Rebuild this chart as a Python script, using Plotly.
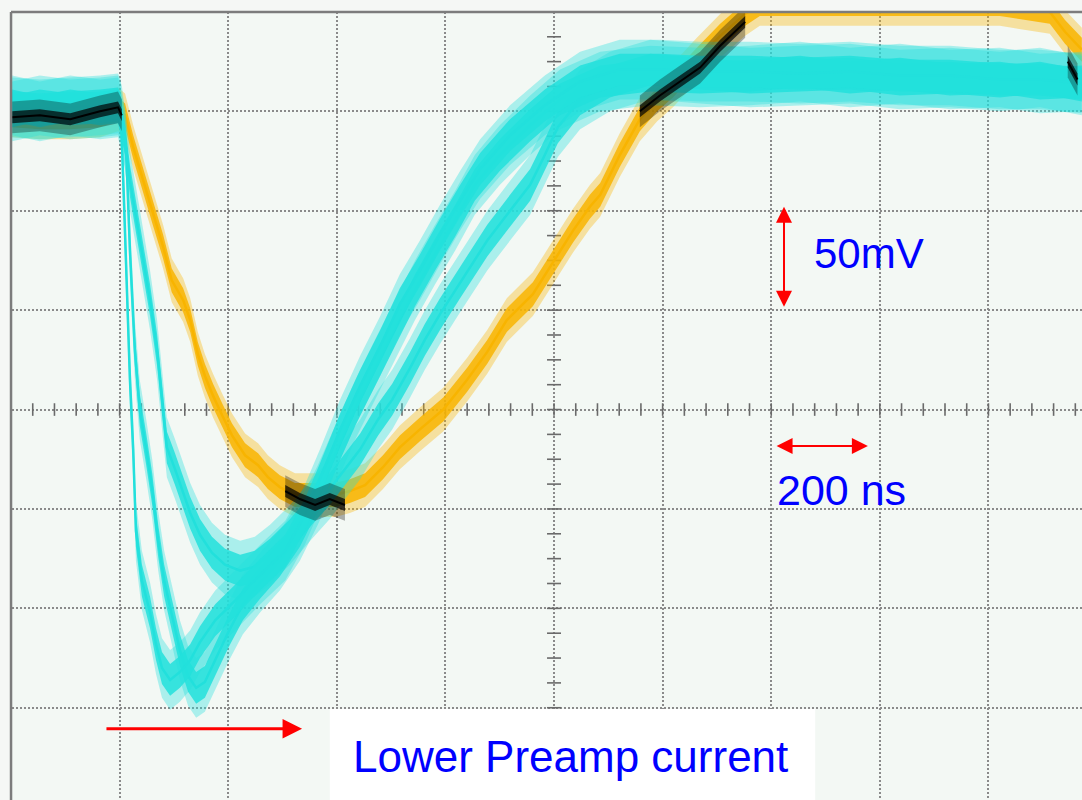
import numpy as np
import plotly.graph_objects as go

# ---- data (time in ns, amplitude in mV) ----
orange_t = [2, 53, 109, 164, 197, 210, 225, 243, 261, 280, 296, 317, 330, 344, 357, 372, 389, 407, 431, 455,
            473, 495, 523, 560, 597, 624, 652, 685, 716, 753, 796, 840, 877, 913, 961, 998, 1035, 1066, 1085, 1121,
            1158, 1190, 1219, 1263, 1306, 1352, 1379, 1453, 1637, 1821, 1913, 1941, 1972]
orange_v = [148, 147, 147, 148, 151, 148, 132, 116, 99, 82, 65, 55, 45, 28, 17, 7, -3, -13, -23, -28,
            -34, -39, -43, -43, -43, -41, -38, -29, -19, -10, 0, 15, 29, 45, 58, 74, 90, 102, 108, 128,
            146, 156, 163, 176, 188, 199, 204, 204, 204, 204, 200, 190, 181]

cyanA_t = [2, 53, 109, 164, 197, 202, 208, 214, 219, 225, 230, 241, 256, 267, 278, 293, 311, 330, 348, 376,
           413, 459, 505, 541, 569, 606, 643, 680, 716, 753, 790, 827, 864, 919, 983, 1048, 1121, 1195, 1269, 1361,
           1453, 1545, 1637, 1729, 1821, 1895, 1972]
cyanA_v = [152, 151, 152, 153, 154, 151, 105, 55, 15, -20, -61, -86, -102, -118, -130, -136, -132, -126, -117, -106,
           -96, -83, -71, -53, -35, -10, 12, 32, 53, 70, 88, 105, 121, 138, 153, 165, 171, 171, 170, 170,
           169, 170, 168, 168, 166, 166, 164]

cyanB_t = [2, 53, 109, 164, 197, 204, 212, 219, 228, 237, 249, 260, 271, 282, 296, 311, 326, 341, 357, 376,
           400, 427, 459, 495, 532, 565, 597, 634, 670, 707, 744, 781, 818, 854, 900, 956, 1011, 1085, 1177, 1269,
           1361, 1453, 1545, 1637, 1729, 1821, 1895, 1972]
cyanB_v = [150, 153, 151, 152, 153, 148, 131, 80, 30, 0, -20, -40, -66, -86, -103, -121, -134, -140, -137, -126,
           -112, -98, -87, -76, -61, -43, -23, 0, 20, 40, 60, 78, 95, 113, 128, 143, 156, 165, 168, 167,
           168, 170, 167, 169, 166, 167, 164, 165]

cyanC_t = [2, 53, 109, 164, 197, 210, 219, 237, 256, 269, 278, 287, 302, 315, 330, 348, 370, 394, 422, 449,
           477, 514, 551, 587, 615, 643, 676, 702, 735, 762, 790, 827, 877, 919, 956, 983, 1007, 1048, 1103, 1177,
           1269, 1361, 1453, 1545, 1637, 1729, 1821, 1895, 1972]
cyanC_v = [153, 150, 153, 151, 152, 136, 115, 85, 55, 30, 5, -19, -30, -40, -52, -63, -72, -78, -81, -79,
           -73, -63, -51, -40, -30, -20, -5, 5, 21, 35, 48, 64, 85, 100, 113, 128, 142, 156, 165, 171,
           169, 167, 168, 169, 166, 167, 165, 167, 163]

black_t = [2, 53, 109, 164, 197, 204, None, 505, 532, 560, 587, 615, None,
           1158, 1195, 1232, 1269, 1306, 1352, None, 1946, 1964]
black_v = [147, 148, 146, 150, 152, 148, None, -41, -45, -48, -45, -48, None,
           150, 158, 165, 172, 183, 195, None, 175, 166]

# half-thickness of the noise band of each trace (mV): dense core and occasional spikes
noise_orange = (6, 11)
noise_cyan = (8, 15)
noise_black = (3, 8)

# scope scales
ns_per_div = 200
mv_per_div = 50
label_volt = "50mV"
label_time = "200 ns"
label_title = "Lower Preamp current"

# ---- styling ----
CYAN = "#22e0dc"
ORANGE = "#f8b400"
BLACK = "#000000"
BG = "#f3f8f4"
PAPER = "#f5f7f5"
GRID = "#8a8a8a"
TICK = "#6a6a6a"
X_RANGE = [-20.3, 1972.3]
Y_RANGE = [-196.4, 206.0]

fig = go.Figure()


def segments(t, v):
    segs, ct, cv = [], [], []
    for a, b in zip(t, v):
        if a is None:
            if ct:
                segs.append((ct, cv))
            ct, cv = [], []
        else:
            ct.append(a)
            cv.append(b)
    if ct:
        segs.append((ct, cv))
    return segs


def add_band(st, sv, half, rgba):
    xs = np.concatenate([st, st[::-1]])
    ys = np.concatenate([sv + half, (sv - half)[::-1]])
    fig.add_trace(go.Scatter(x=xs, y=ys, mode="lines", fill="toself", fillcolor=rgba,
                             line=dict(width=0), hoverinfo="skip", showlegend=False))


def add_trace_band(t, v, halves, color, rgb, width, alphas=(0.35, 0.85)):
    core, spike = halves
    for st, sv in segments(t, v):
        st = np.array(st, float)
        sv = np.array(sv, float)
        add_band(st, sv, spike, "rgba(%s,%s)" % (rgb, alphas[0]))
        add_band(st, sv, core, "rgba(%s,%s)" % (rgb, alphas[1]))
        fig.add_trace(go.Scatter(x=st, y=sv, mode="lines", line=dict(color=color, width=width),
                                 hoverinfo="skip", showlegend=False))


# minor ticks on the centre cross-hair
xt = np.arange(0, 1961, ns_per_div / 5)
fig.add_trace(go.Scatter(x=xt, y=np.zeros_like(xt), mode="markers", hoverinfo="skip", showlegend=False,
                         marker=dict(symbol="line-ns", size=9, line=dict(color=TICK, width=1.6))))
yt = np.arange(-200, 200.1, mv_per_div / 4)
fig.add_trace(go.Scatter(x=np.full_like(yt, 5 * ns_per_div), y=yt, mode="markers", hoverinfo="skip",
                         showlegend=False,
                         marker=dict(symbol="line-ew", size=10, line=dict(color=TICK, width=1.6))))

add_trace_band(orange_t, orange_v, noise_orange, ORANGE, "248,180,0", 2.5)
add_trace_band(cyanC_t, cyanC_v, noise_cyan, CYAN, "34,224,220", 2.5)
add_trace_band(cyanB_t, cyanB_v, noise_cyan, CYAN, "34,224,220", 2.5)
add_trace_band(cyanA_t, cyanA_v, noise_cyan, CYAN, "34,224,220", 2.5)
add_trace_band(black_t, black_v, noise_black, BLACK, "0,0,0", 2.0, alphas=(0.3, 0.7))

shapes = [
    # area outside the graticule (top strip and left strip)
    dict(type="rect", xref="x", yref="y", x0=-40, x1=2000, y0=4 * mv_per_div, y1=230,
         fillcolor=PAPER, line=dict(width=0), layer="above"),
    dict(type="rect", xref="x", yref="y", x0=-40, x1=0, y0=-230, y1=230,
         fillcolor=PAPER, line=dict(width=0), layer="above"),
    # graticule frame
    dict(type="line", xref="x", yref="y", x0=0, x1=2000, y0=4 * mv_per_div, y1=4 * mv_per_div,
         line=dict(color="#7c7c7c", width=2.5), layer="above"),
    dict(type="line", xref="x", yref="y", x0=0, x1=0, y0=-230, y1=4 * mv_per_div,
         line=dict(color="#7c7c7c", width=2.5), layer="above"),
    # white label box
    dict(type="rect", xref="x", yref="y", x0=587, x1=1481, y0=-250, y1=-150.6,
         fillcolor="white", line=dict(width=0), layer="above"),
]

font = "Liberation Sans, Arial, sans-serif"
annotations = [
    # 50 mV double arrow
    dict(x=1423.5, y=102, ax=1423.5, ay=51, xref="x", yref="y", axref="x", ayref="y", text="",
         showarrow=True, arrowhead=2, arrowsize=1.6, arrowwidth=2, arrowcolor="#ff0000",
         arrowside="end+start", startarrowhead=2, startarrowsize=1.6, standoff=0, startstandoff=0),
    # 200 ns double arrow
    dict(x=1578, y=-18.3, ax=1407, ay=-18.3, xref="x", yref="y", axref="x", ayref="y", text="",
         showarrow=True, arrowhead=2, arrowsize=1.6, arrowwidth=2, arrowcolor="#ff0000",
         arrowside="end+start", startarrowhead=2, startarrowsize=1.6, standoff=0, startstandoff=0),
    # lower preamp current arrow
    dict(x=536, y=-160.6, ax=173, ay=-160.6, xref="x", yref="y", axref="x", ayref="y", text="",
         showarrow=True, arrowhead=2, arrowsize=1.3, arrowwidth=3, arrowcolor="#ff0000", standoff=0),
    dict(x=1580, y=78.3, xref="x", yref="y", text=label_volt, showarrow=False,
         font=dict(family=font, size=42, color="#0000ff"), xanchor="center", yanchor="middle"),
    dict(x=1530, y=-40.4, xref="x", yref="y", text=label_time, showarrow=False,
         font=dict(family=font, size=43, color="#0000ff"), xanchor="center", yanchor="middle"),
    dict(x=1029.5, y=-174.7, xref="x", yref="y", text=label_title, showarrow=False,
         font=dict(family=font, size=44, color="#0000ff"), xanchor="center", yanchor="middle"),
]

fig.update_layout(
    width=1082, height=800, autosize=False,
    margin=dict(l=0, r=0, t=0, b=0, pad=0),
    paper_bgcolor=PAPER, plot_bgcolor=BG,
    showlegend=False,
    shapes=shapes, annotations=annotations,
    xaxis=dict(range=X_RANGE, tick0=0, dtick=ns_per_div, showgrid=True, gridcolor=GRID, gridwidth=1.5,
               griddash="2px,2px", zeroline=False, showticklabels=False, ticks="", showline=False,
               fixedrange=True),
    yaxis=dict(range=Y_RANGE, tick0=0, dtick=mv_per_div, showgrid=True, gridcolor=GRID, gridwidth=1.5,
               griddash="2px,2px", zeroline=False, showticklabels=False, ticks="", showline=False,
               fixedrange=True),
)

fig.write_html("out.html", config={"displayModeBar": False},
               post_script="document.body.style.margin='0px';document.body.style.overflow='hidden';"
                           "document.body.style.background='%s';" % PAPER)
